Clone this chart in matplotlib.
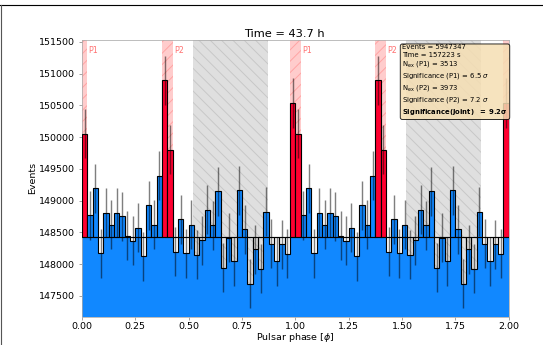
import numpy as np
import matplotlib
matplotlib.use("Agg")
import matplotlib.pyplot as plt
from matplotlib.lines import Line2D

# counts per phase bin (40 bins in one rotation, repeated twice on the plot)
counts = [150055, 148766, 149197, 148172, 148808, 148619, 148808, 148750,
          148445, 148367, 148572, 148119, 148924, 148619, 149392, 150896,
          149802, 148193, 148703, 148167, 148619, 148146, 148372, 148856,
          148608, 149145, 147941, 148414, 148046, 149160, 148545, 147688,
          148235, 147925, 148824, 148319, 148046, 148309, 148162, 150538]
n_bins = 40
p1_range = (-0.025, 0.025)
p2_range = (0.375, 0.425)
off_range = (0.52, 0.87)

title = "Time = 43.7 h"
info_lines = ["Events = 5947347",
              "Time = 157223 s",
              r"N$_{\rm ex}$ (P1) = 3513",
              r"Significance (P1) = 6.5 $\sigma$",
              r"N$_{\rm ex}$ (P2) = 3973",
              r"Significance (P2) = 7.2 $\sigma$",
              r"$\mathbf{Significance(Joint)\ \ =\ 9.2\sigma}$"]

blue = '#1188ff'
red = '#ff0030'

counts2 = np.array(counts * 2, dtype=float)
width = 1.0 / n_bins
edges = np.arange(2 * n_bins + 1) * width
centers = edges[:-1] + width / 2

def in_range(ph, r):
    ph = ph % 1.0
    lo, hi = r
    if lo < 0:
        return (ph >= lo % 1.0) | (ph < hi)
    return (ph >= lo) & (ph < hi)

pulse = in_range(centers, p1_range) | in_range(centers, p2_range)
off = in_range(centers, off_range)
background = counts2[off].mean()

ymin, ymax = 147170, 151530

fig = plt.figure(figsize=(543 / 68, 345 / 68), dpi=68)
ax = fig.add_axes([0.151, 0.082, 0.7856, 0.802])

# shaded regions
for k in range(3):
    ax.axvspan(k + p1_range[0], k + p1_range[1], facecolor='red', edgecolor='red',
               alpha=0.2, hatch='//', lw=0)
for k in range(2):
    ax.axvspan(k + p2_range[0], k + p2_range[1], facecolor='red', edgecolor='red',
               alpha=0.2, hatch='//', lw=0)
    ax.axvspan(k + off_range[0], k + off_range[1], facecolor='gray', edgecolor='gray',
               alpha=0.25, hatch='\\\\', lw=0)
    ax.text(k + p1_range[1] + 0.006, 0.962, 'P1', color='red', alpha=0.55,
            fontsize=8.5, va='center', transform=ax.get_xaxis_transform())
    ax.text(k + p2_range[1] + 0.006, 0.962, 'P2', color='red', alpha=0.55,
            fontsize=8.5, va='center', transform=ax.get_xaxis_transform())

# blue fill below the counts (below the background level for the pulses)
fill_top = np.where(pulse, np.minimum(counts2, background), counts2)
ax.fill_between(edges, ymin, np.append(fill_top, fill_top[-1]), step='post',
                color=blue, lw=0, zorder=2)

# boxes between background and counts
faces = [red if p else (blue if c > background else 'none')
         for p, c in zip(pulse, counts2)]
ax.bar(centers, counts2 - background, bottom=background, width=width,
       color=faces, edgecolor='k', lw=1.2, zorder=3)

ax.errorbar(centers, counts2, yerr=np.sqrt(counts2), fmt='none', ecolor='k',
            alpha=0.5, elinewidth=1.5, zorder=4)
ax.axhline(background, color='k', ls='--', lw=1.1, zorder=5)

ax.set_xlim(0, 2)
ax.set_ylim(ymin, ymax)
ax.set_xticks(np.arange(0, 2.01, 0.25))
ax.set_yticks(np.arange(147500, 151501, 500))
ax.ticklabel_format(axis='y', useOffset=False, style='plain')
for s in ax.spines.values():
    s.set_color('#aaaaaa')
ax.tick_params(color='#888888')
ax.tick_params(axis='x', pad=2)
ax.set_xlabel(r"Pulsar phase [$\phi$]", labelpad=0.5)
ax.set_ylabel("Events", labelpad=2)
ax.set_title(title, x=0.474, pad=3)

ax.text(0.751, 0.9855, "\n".join(info_lines), transform=ax.transAxes,
        fontsize=7.3, va='top', ha='left', zorder=10, linespacing=1.3,
        bbox=dict(boxstyle='round,pad=0.3', facecolor='wheat', edgecolor='k', alpha=0.85))

# frame lines at top and left of the picture
fig.add_artist(Line2D([0, 1], [0.985, 0.985], color='k', lw=1.2, transform=fig.transFigure))
fig.add_artist(Line2D([0.002, 0.002], [0, 0.985], color='#555555', lw=1.2, transform=fig.transFigure))

fig.savefig('out.png', dpi=68)
